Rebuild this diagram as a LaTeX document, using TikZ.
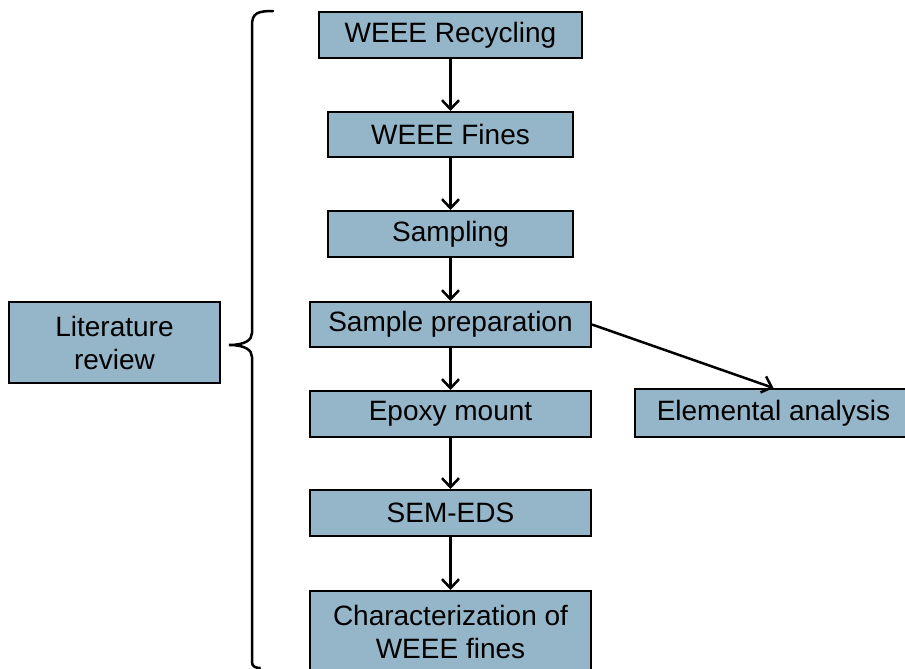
\documentclass[tikz,border=0pt]{standalone}
\usepackage{fontspec}
\setmainfont{Liberation Sans}
\usetikzlibrary{arrows.meta}
\definecolor{boxfill}{RGB}{149,181,200}
\tikzset{
  stepbox/.style={draw=black, line width=2pt, fill=boxfill, inner sep=0pt, align=center,
    font=\fontsize{28}{33}\selectfont},
  flow/.style={draw=black, line width=2.5pt, -{Straight Barb[length=9pt,width=17pt,line width=2.5pt]}},
  bracestyle/.style={draw=black, line width=2.5pt, line cap=round}
}
\begin{document}
\begin{tikzpicture}[x=1pt,y=-1pt]
\useasboundingbox (0,0) rectangle (905,669);
\clip (0,0) rectangle (905,669);
\fill[white] (0,0) rectangle (905,669);
\node[stepbox, minimum width=263pt, minimum height=46pt] (rec) at (450.5,35) {WEEE Recycling};
\node[stepbox, minimum width=245pt, minimum height=45pt] (fines) at (450.5,134.5) {WEEE Fines};
\node[stepbox, minimum width=245pt, minimum height=46pt] (samp) at (450.5,234) {Sampling};
\node[stepbox, minimum width=281pt, minimum height=45pt] (prep) at (450.5,324.5) {Sample preparation};
\node[stepbox, minimum width=281pt, minimum height=46pt] (epoxy) at (450.5,414) {Epoxy mount};
\node[stepbox, minimum width=281pt, minimum height=46pt] (sem) at (450.5,513) {SEM-EDS};
\node[stepbox, minimum width=281pt, minimum height=81pt] (char) at (450.5,631.5) {Characterization of\\WEEE fines};
\node[stepbox, minimum width=211pt, minimum height=81pt] (lit) at (114.5,342.5) {Literature\\review};
\node[stepbox, minimum width=277pt, minimum height=48pt] (elem) at (773.5,413) {Elemental analysis};
\draw[flow] (rec) -- (fines);
\draw[flow] (fines) -- (samp);
\draw[flow] (samp) -- (prep);
\draw[flow] (prep) -- (epoxy);
\draw[flow] (epoxy) -- (sem);
\draw[flow] (sem) -- (char);
\draw[flow] (prep.east) -- (elem.north);
\coordinate (btop) at (273,11);
\coordinate (btip) at (229,345);
\coordinate (bbot) at (260,668);
\draw[bracestyle] (btop) .. controls (258,11) and (252,13) .. (252,25) -- (252,333)
  .. controls (252,340) and (245,345) .. (btip)
  .. controls (245,345) and (252,350) .. (252,357) -- (252,662)
  .. controls (252,666) and (255,668) .. (bbot);
\end{tikzpicture}
\end{document}
